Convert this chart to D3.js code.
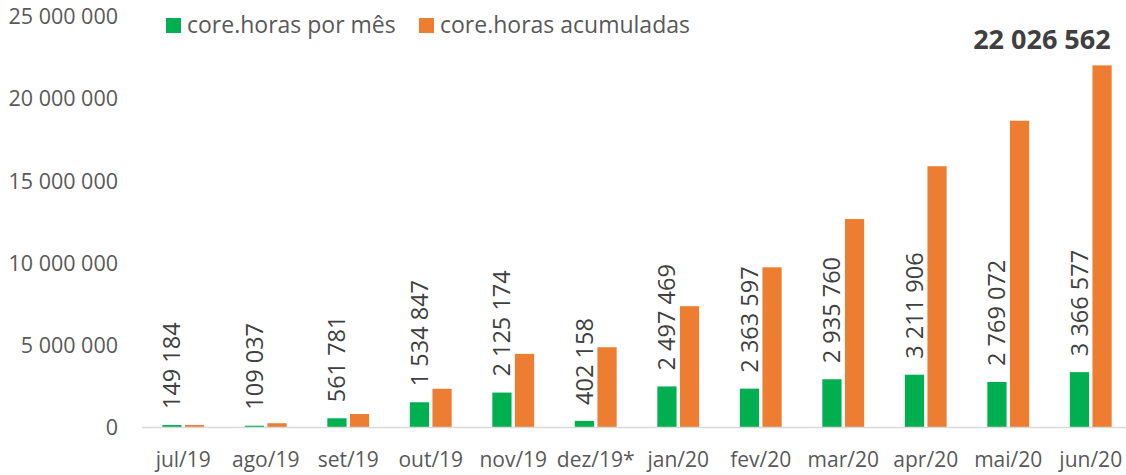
<!DOCTYPE html>
<html>
<head>
<meta charset="utf-8">
<script src="https://cdn.jsdelivr.net/npm/d3@7"></script>
<style>
  html, body { margin: 0; padding: 0; background: #ffffff; }
  svg { display: block; font-family: "Open Sans", "Noto Sans", sans-serif; }
</style>
</head>
<body>
<svg id="chart" width="1126" height="475"></svg>
<script>
const categories = ["jul/19","ago/19","set/19","out/19","nov/19","dez/19*","jan/20","fev/20","mar/20","apr/20","mai/20","jun/20"];
const monthly = [149184, 109037, 561781, 1534847, 2125174, 402158, 2497469, 2363597, 2935760, 3211906, 2769072, 3366577];
const cumulative = [149184, 258221, 820002, 2354849, 4480023, 4882181, 7379650, 9743247, 12679007, 15890913, 18659985, 22026562];
const yTicks = [0, 5000000, 10000000, 15000000, 20000000, 25000000];
const seriesNames = ["core.horas por mês", "core.horas acumuladas"];
const seriesColors = ["#00B050", "#ED7D31"];

const svg = d3.select("#chart");
const fmt = v => d3.format(",")(v).replace(/,/g, " ");

const x = d3.scaleBand().domain(categories).range([142, 1132]).padding(0);
const x1 = d3.scaleBand().domain([0, 1]).range([0, x.bandwidth()]).paddingInner(0.15).paddingOuter(0.9);
const y = d3.scaleLinear().domain([0, 25000000]).range([427.5, 16.5]);

// y tick labels
svg.append("g").selectAll("text").data(yTicks).join("text")
  .attr("x", 118).attr("y", d => y(d)).attr("dy", "0.36em")
  .attr("text-anchor", "end").attr("fill", "#595959")
  .style("font-size", "21.5px").text(d => fmt(d));

// bars
const rows = categories.map((c, i) => ({ c, vals: [monthly[i], cumulative[i]] }));
const groups = svg.append("g").selectAll("g").data(rows).join("g")
  .attr("transform", d => `translate(${x(d.c)},0)`);
groups.selectAll("rect").data(d => d.vals.map((v, k) => ({ v, k }))).join("rect")
  .attr("x", d => x1(d.k)).attr("width", x1.bandwidth())
  .attr("y", d => y(d.v)).attr("height", d => y(0) - y(d.v))
  .attr("fill", d => seriesColors[d.k]);

// axis line
svg.append("line").attr("x1", 142).attr("x2", 1126)
  .attr("y1", y(0)).attr("y2", y(0))
  .attr("stroke", "#d9d9d9").attr("stroke-width", 1.5);

// category labels
svg.append("g").selectAll("text").data(categories).join("text")
  .attr("x", d => x(d) + x.bandwidth() / 2).attr("y", 467)
  .attr("text-anchor", "middle").attr("fill", "#595959")
  .style("font-size", "21px").text(d => d);

// monthly value labels (rotated)
svg.append("g").selectAll("text").data(rows).join("text")
  .attr("transform", d => `translate(${x(d.c) + x1(0) + x1.bandwidth() / 2},${y(d.vals[0]) - 16}) rotate(-90)`)
  .attr("dy", "0.36em").attr("text-anchor", "start").attr("fill", "#404040")
  .style("font-size", "23.5px").text(d => fmt(d.vals[0]));

// total label
const last = rows[rows.length - 1];
svg.append("text")
  .attr("x", x(last.c) + x1(1) + x1.bandwidth() - 1).attr("y", 49)
  .attr("text-anchor", "end").attr("fill", "#404040")
  .style("font-size", "27px").style("font-weight", "bold")
  .text(fmt(last.vals[1]));

// legend
const legendX = [166, 419];
const lg = svg.append("g").selectAll("g").data(seriesNames).join("g")
  .attr("transform", (d, i) => `translate(${legendX[i]},18)`);
lg.append("rect").attr("width", 15).attr("height", 15).attr("fill", (d, i) => seriesColors[i]);
lg.append("text").attr("x", 21).attr("y", 14.5).attr("fill", "#595959")
  .style("font-size", "23px").text(d => d);
</script>
</body>
</html>
